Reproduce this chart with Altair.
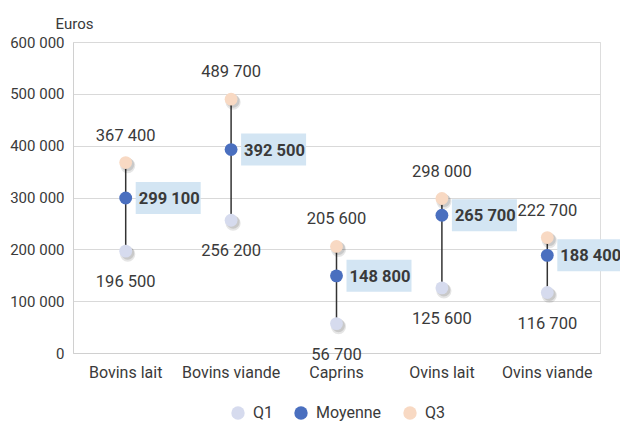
import altair as alt
import pandas as pd

categories = ["Bovins lait", "Bovins viande", "Caprins", "Ovins lait", "Ovins viande"]
q1_values = [196500, 256200, 56700, 125600, 116700]
mean_values = [299100, 392500, 148800, 265700, 188400]
q3_values = [367400, 489700, 205600, 298000, 222700]
series_names = ["Q1", "Moyenne", "Q3"]
series_colors = ["#d6dbee", "#4a6fbf", "#f8d9c3"]


def fmt(v):
    return f"{v:,}".replace(",", " ")


wide = pd.DataFrame({
    "cat": categories,
    "q1": q1_values,
    "moy": mean_values,
    "q3": q3_values,
    "q1_lab": [fmt(v) for v in q1_values],
    "moy_lab": [fmt(v) for v in mean_values],
    "q3_lab": [fmt(v) for v in q3_values],
})

long_rows = []
for c, a, m, b in zip(categories, q1_values, mean_values, q3_values):
    long_rows.append({"cat": c, "serie": "Q1", "val": a})
    long_rows.append({"cat": c, "serie": "Moyenne", "val": m})
    long_rows.append({"cat": c, "serie": "Q3", "val": b})
long = pd.DataFrame(long_rows)
quart = long[long["serie"] != "Moyenne"]

FONT = "Roboto"
TXT = "#3a3a3a"
FS = 16
FSD = 16.5

x_enc = alt.X("cat:N", sort=categories,
              scale=alt.Scale(paddingInner=0, paddingOuter=0),
              axis=alt.Axis(title=None, labelAngle=0, ticks=False, domainColor="#d0d0d0",
                            labelFontSize=FS, labelColor=TXT, labelFont=FONT, labelPadding=11,
                            grid=False))
y_scale = alt.Scale(domain=[0, 600000], nice=False)
y_axis = alt.Axis(title="Euros", titleAngle=0, titleAlign="center", titleX=1, titleY=-14,
                  titleBaseline="alphabetic", titleFont=FONT, titleFontSize=15,
                  titleFontWeight="normal", titleColor=TXT,
                  values=[0, 100000, 200000, 300000, 400000, 500000, 600000],
                  labelExpr="replace(format(datum.value, ','), ',', ' ')",
                  ticks=False, domainColor="#d0d0d0", gridColor="#d9d9d9",
                  labelFontSize=15, labelColor=TXT, labelFont=FONT, labelPadding=9)

base_w = alt.Chart(wide).encode(x=x_enc)

rule = base_w.mark_rule(color="#333333", strokeWidth=1.5).encode(
    y=alt.Y("q1:Q", scale=y_scale, axis=y_axis), y2="q3:Q")

shadow1 = alt.Chart(quart).mark_point(filled=True, opacity=0.10, color="#000000",
                                      size=230, xOffset=2, yOffset=3).encode(
    x=alt.X("cat:N", sort=categories), y=alt.Y("val:Q", scale=y_scale))
shadow2 = alt.Chart(quart).mark_point(filled=True, opacity=0.12, color="#000000",
                                      size=170, xOffset=2, yOffset=2).encode(
    x=alt.X("cat:N", sort=categories), y=alt.Y("val:Q", scale=y_scale))

points = alt.Chart(long).mark_point(filled=True, opacity=1, size=165, strokeWidth=0).encode(
    x=alt.X("cat:N", sort=categories),
    y=alt.Y("val:Q", scale=y_scale),
    color=alt.Color("serie:N", scale=alt.Scale(domain=series_names, range=series_colors),
                    legend=alt.Legend(title=None, orient="none", direction="horizontal",
                                      legendX=157, legendY=363, symbolType="circle",
                                      symbolSize=180, symbolStrokeWidth=0,
                                      labelFontSize=FS, labelFont=FONT, labelColor=TXT,
                                      labelOffset=7, columnPadding=20)),
)

box = base_w.mark_point(filled=True, opacity=1, color="#d3e5f3", strokeWidth=0, size=1024,
                        shape="M0.625,-1L4.6875,-1L4.6875,1L0.625,1Z").encode(
    y=alt.Y("moy:Q", scale=y_scale))

mean_lab = base_w.mark_text(align="left", baseline="middle", dx=13, dy=1, fontSize=FSD,
                            fontWeight="bold", font=FONT, color=TXT).encode(
    y=alt.Y("moy:Q", scale=y_scale), text="moy_lab:N")
q3_lab = base_w.mark_text(align="center", baseline="middle", dy=-27, fontSize=FSD,
                          font=FONT, color=TXT).encode(
    y=alt.Y("q3:Q", scale=y_scale), text="q3_lab:N")
q1_lab = base_w.mark_text(align="center", baseline="middle", dy=31, fontSize=FSD,
                          font=FONT, color=TXT).encode(
    y=alt.Y("q1:Q", scale=y_scale), text="q1_lab:N")

chart = alt.layer(rule, shadow1, shadow2, points, box, mean_lab, q3_lab, q1_lab).properties(
    width=527, height=311,
    autosize=alt.AutoSizeParams(type="none"),
    padding={"left": 65, "top": 34, "right": 20, "bottom": 70},
).configure_view(stroke=None).configure(background="white")

chart.save("out.html", embed_options={"renderer": "svg", "actions": False})
